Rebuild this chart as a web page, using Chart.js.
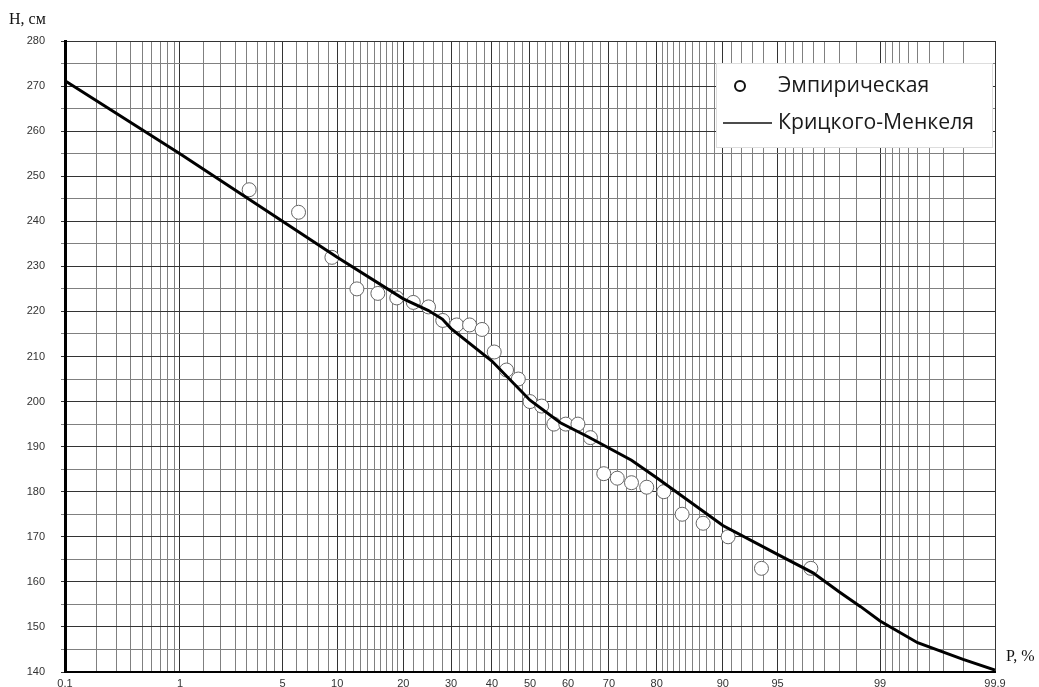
<!DOCTYPE html>
<html lang="ru">
<head>
    <meta charset="UTF-8">
    <title>Кривая обеспеченности</title>
    <style>
        html, body { margin: 0; padding: 0; background: #fff; }
        #wrap { position: relative; width: 1039px; height: 687px; }
        canvas { display: block; }
    </style>
    <script src="https://cdn.jsdelivr.net/npm/chart.js"></script>
</head>
<body>
    <div id="wrap"><canvas id="chart" width="1039" height="687"></canvas></div>

    <script>
        // data
        // empirical points: exceedance probability, %
        const empP = [3.1, 6.2, 9.4, 12.5, 15.6, 18.8, 21.9, 25.0, 28.1, 31.3, 34.4,
                      37.5, 40.6, 43.8, 46.9, 50.0, 53.1, 56.3, 59.4, 62.5, 65.6,
                      68.8, 71.9, 75.0, 78.1, 81.3, 84.4, 87.5, 90.6, 93.8, 96.9];
        // empirical points: level H, cm
        const empH = [247, 242, 232, 225, 224, 223, 222, 221, 218, 217, 217,
                      216, 211, 207, 205, 200, 199, 195, 195, 195, 192,
                      184, 183, 182, 181, 180, 175, 173, 170, 163, 163];

        // Kritsky-Menkel curve
        const curveP = [0.1, 1, 5, 10, 20, 25, 28, 30, 40, 50, 58, 65, 75, 80, 90, 95, 97, 98, 98.6, 99, 99.5, 99.8, 99.9];
        const curveH = [271.2, 255, 240, 232, 222.8, 220.2, 218.3, 216.2, 209, 200.3, 195.3, 192.2, 187, 183.1, 172.5, 166.1, 162, 157.8, 154.5, 151.3, 146.5, 142.8, 140.4];

        // probability paper grid
        const gridP = [0.1, 0.2, 0.3, 0.4, 0.5, 0.6, 0.7, 0.8, 0.9,
                       1, 1.5, 2, 2.5, 3, 3.5, 4, 4.5,
                       5, 6, 7, 8, 9,
                       10, 11, 12, 13, 14, 15, 16, 17, 18, 19,
                       20, 22, 24, 26, 28, 30, 32, 34, 36, 38, 40, 42, 44, 46, 48,
                       50, 52, 54, 56, 58, 60, 62, 64, 66, 68, 70, 72, 74, 76, 78,
                       80, 81, 82, 83, 84, 85, 86, 87, 88, 89,
                       90, 91, 92, 93, 94,
                       95, 95.5, 96, 96.5, 97, 97.5, 98, 98.5,
                       99, 99.1, 99.2, 99.3, 99.4, 99.5, 99.6, 99.7, 99.8, 99.9];
        const labelP = [0.1, 1, 5, 10, 20, 30, 40, 50, 60, 70, 80, 90, 95, 99, 99.9];

        const legendNames = ['Эмпирическая', 'Крицкого-Менкеля'];

        // inverse normal CDF (Acklam)
        function probit(p) {
            const a = [-3.969683028665376e+01, 2.209460984245205e+02, -2.759285104469687e+02, 1.383577518672690e+02, -3.066479806614716e+01, 2.506628277459239e+00];
            const b = [-5.447609879822406e+01, 1.615858368580409e+02, -1.556989798598866e+02, 6.680131188771972e+01, -1.328068155288572e+01];
            const c = [-7.784894002430293e-03, -3.223964580411365e-01, -2.400758277161838e+00, -2.549671492805539e+00, 4.374664141464968e+00, 2.938163982698783e+00];
            const d = [7.784695709041462e-03, 3.224671290700398e-01, 2.445134137142996e+00, 3.754408661907416e+00];
            const plow = 0.02425;
            let q, r;
            if (p < plow) {
                q = Math.sqrt(-2 * Math.log(p));
                return (((((c[0]*q+c[1])*q+c[2])*q+c[3])*q+c[4])*q+c[5]) / ((((d[0]*q+d[1])*q+d[2])*q+d[3])*q+1);
            }
            if (p > 1 - plow) {
                q = Math.sqrt(-2 * Math.log(1 - p));
                return -(((((c[0]*q+c[1])*q+c[2])*q+c[3])*q+c[4])*q+c[5]) / ((((d[0]*q+d[1])*q+d[2])*q+d[3])*q+1);
            }
            q = p - 0.5; r = q * q;
            return (((((a[0]*r+a[1])*r+a[2])*r+a[3])*r+a[4])*r+a[5])*q / (((((b[0]*r+b[1])*r+b[2])*r+b[3])*r+b[4])*r+1);
        }

        function normCdf(z) {
            const t = 1 / (1 + 0.2316419 * Math.abs(z));
            const y = 0.3989423 * Math.exp(-z * z / 2) * t * (0.3193815 + t * (-0.3565638 + t * (1.781478 + t * (-1.821256 + t * 1.330274))));
            return z > 0 ? 1 - y : y;
        }

        // probability (normal) scale for the x axis
        class ProbitScale extends Chart.Scale {
            determineDataLimits() {
                this.min = this.options.min;
                this.max = this.options.max;
            }
            buildTicks() {
                return gridP.map(v => ({ value: v }));
            }
            configure() {
                super.configure();
                this._zmin = probit(this.min / 100);
                this._zmax = probit(this.max / 100);
            }
            getLabelForValue(v) {
                return String(v).replace('.', ',');
            }
            getPixelForTick(i) {
                return this.getPixelForValue(this.ticks[i].value);
            }
            getPixelForValue(v) {
                const z = probit(v / 100);
                return this.getPixelForDecimal((z - this._zmin) / (this._zmax - this._zmin));
            }
            getValueForPixel(px) {
                const dec = this.getDecimalForPixel(px);
                return normCdf(this._zmin + dec * (this._zmax - this._zmin)) * 100;
            }
        }
        ProbitScale.id = 'probit';
        ProbitScale.defaults = {};
        Chart.register(ProbitScale);

        // axis titles and legend box
        const extras = {
            id: 'extras',
            afterDraw(chart) {
                const ctx = chart.ctx;
                ctx.save();
                ctx.fillStyle = '#111';
                ctx.font = '16px "Liberation Serif", "DejaVu Serif", serif';
                ctx.textBaseline = 'middle';
                ctx.textAlign = 'left';
                ctx.fillText('H, см', 9, 20);
                ctx.fillText('P, %', 1006, 657);

                // legend
                ctx.fillStyle = '#fff';
                ctx.fillRect(716, 63, 277, 85);
                ctx.strokeStyle = '#ddd';
                ctx.lineWidth = 1;
                ctx.strokeRect(716.5, 63.5, 276, 84);

                ctx.font = '18px "Open Sans", sans-serif';
                const w = ctx.measureText(legendNames[1]).width;
                const size = 18 * 196 / w;
                ctx.font = size.toFixed(1) + 'px "Open Sans", sans-serif';
                ctx.fillStyle = '#1a1a1a';
                ctx.fillText(legendNames[0], 778, 86);
                ctx.fillText(legendNames[1], 778, 123);

                ctx.beginPath();
                ctx.arc(740, 86, 5, 0, Math.PI * 2);
                ctx.strokeStyle = '#111';
                ctx.lineWidth = 2;
                ctx.stroke();

                ctx.beginPath();
                ctx.moveTo(723, 123);
                ctx.lineTo(772, 123);
                ctx.lineWidth = 1.5;
                ctx.stroke();
                ctx.restore();
            }
        };

        const ctx = document.getElementById('chart').getContext('2d');
        new Chart(ctx, {
            type: 'scatter',
            data: {
                datasets: [
                    {
                        label: legendNames[1],
                        data: curveP.map((p, i) => ({ x: p, y: curveH[i] })),
                        showLine: true,
                        borderColor: '#000',
                        borderWidth: 3,
                        pointRadius: 0,
                        tension: 0
                    },
                    {
                        label: legendNames[0],
                        data: empP.map((p, i) => ({ x: p, y: empH[i] })),
                        pointRadius: 7,
                        pointBorderColor: '#666',
                        pointBorderWidth: 1,
                        pointBackgroundColor: '#fff'
                    }
                ]
            },
            options: {
                responsive: false,
                animation: false,
                layout: { padding: { top: 41, right: 44, left: 0, bottom: 0 } },
                plugins: {
                    legend: { display: false },
                    tooltip: { enabled: false }
                },
                scales: {
                    x: {
                        type: 'probit',
                        min: 0.1,
                        max: 99.9,
                        afterFit: s => { s.height = 15; },
                        border: { color: '#000', width: 2 },
                        grid: {
                            drawTicks: false,
                            color: c => (c.tick && labelP.includes(c.tick.value)) ? '#333' : '#808080',
                            lineWidth: 1
                        },
                        ticks: {
                            autoSkip: false,
                            maxRotation: 0,
                            padding: 5,
                            color: '#333',
                            font: { family: '"Liberation Sans", Arial, sans-serif', size: 11 },
                            callback: v => labelP.includes(v) ? String(v).replace('.', ',') : ''
                        }
                    },
                    y: {
                        min: 140,
                        max: 280,
                        afterFit: s => { s.width = 65; s.paddingTop = 0; s.paddingBottom = 0; },
                        border: { color: '#000', width: 3 },
                        grid: {
                            tickLength: 4,
                            color: c => (c.tick && c.tick.value % 10 === 0) ? '#333' : '#808080',
                            lineWidth: 1
                        },
                        ticks: {
                            stepSize: 5,
                            padding: 16,
                            color: '#333',
                            font: { family: '"Liberation Sans", Arial, sans-serif', size: 11 },
                            callback: v => v % 10 === 0 ? v : ''
                        }
                    }
                }
            },
            plugins: [extras]
        });
    </script>
</body>
</html>
